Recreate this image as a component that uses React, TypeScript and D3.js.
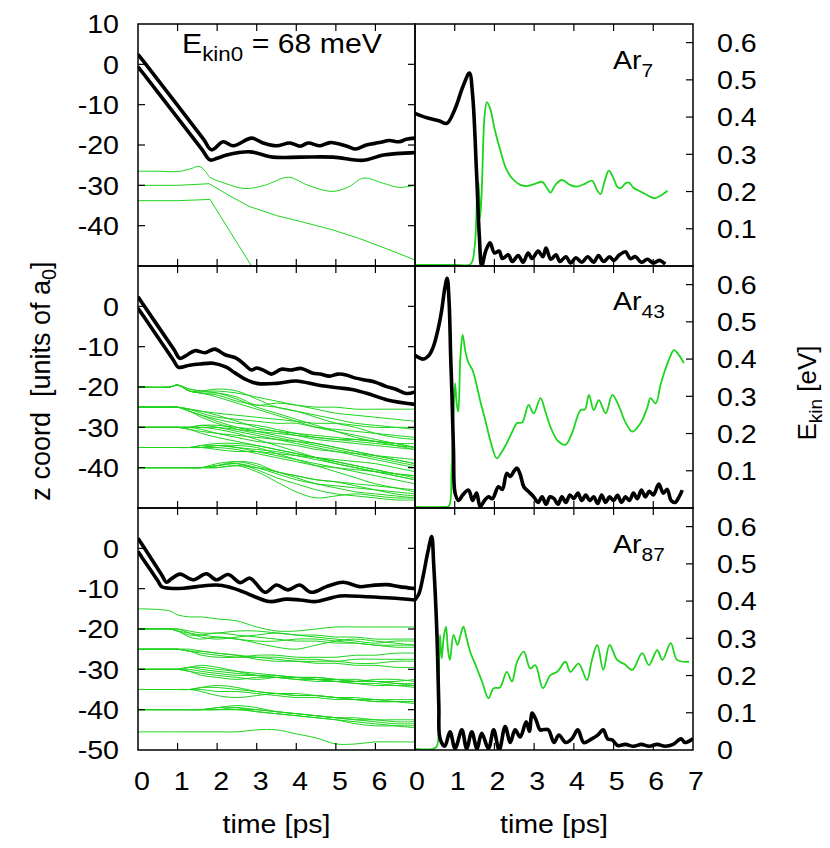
import React from 'react';
import * as d3 from 'd3';

type P = [number, number];

// ---------- shared time grid for the cluster-atom (green) trajectories ----------
const TIME_GRID = [0, 0.8, 1.0, 1.3, 1.6, 2.0, 2.5, 3.0, 3.5, 4.0, 4.5, 5.0, 5.5, 6.0, 6.5, 7.0];

// ---------- Ar7 (top row) ----------
const ar7ProjA: P[] = [[0,2.5],[0.2,0.0],[1.65,-18.5],[1.86,-21.2],[2.15,-19.2],[2.41,-20.2],[2.87,-18.3],[3.16,-19.5],[3.5,-20.2],[3.84,-19.5],[4.1,-20.3],[4.3,-19.5],[4.6,-20.2],[4.86,-19.4],[5.28,-20.3],[5.5,-21],[5.77,-20],[6.1,-19.4],[6.35,-18.9],[6.6,-19.2],[6.78,-18.6],[7,-18.3]];
const ar7ProjB: P[] = [[0,-0.6],[0.2,-3.1],[1.6,-20.9],[1.82,-23.7],[2.0,-23.3],[2.24,-22.5],[2.83,-21.7],[3.4,-23],[4.1,-23],[4.93,-23],[5.69,-23.8],[6.2,-22.5],[7,-21.9]];
const ar7Atom1: P[] = [[0,-26.5],[0.5,-26.5],[1.0,-26.6],[1.3,-26],[1.55,-25.3],[1.7,-26.5],[1.82,-28],[2.2,-29.5],[2.7,-30.8],[3.2,-30],[3.8,-28],[4.3,-30],[4.9,-31.5],[5.3,-30.5],[5.7,-28.2],[6.2,-29.5],[6.6,-30.5],[7,-30]];
const ar7Atom2: P[] = [[0,-30],[1,-30],[1.8,-29.6],[2.3,-32.5],[2.8,-35.2],[3.5,-37.5],[4.2,-39.2],[4.9,-41],[5.6,-43.2],[6.3,-45.8],[7,-48.5]];
const ar7Atom3: P[] = [[0,-33.8],[1,-33.8],[1.82,-33.5],[2.9,-50.5]];
const ar7EkinProj: P[] = [[0,0.41],[0.3,0.398],[0.6,0.39],[0.8,0.383],[1.0,0.42],[1.2,0.48],[1.37,0.518],[1.45,0.46],[1.55,0.25],[1.62,0.08],[1.68,0.0],[1.78,0.04],[1.89,0.062],[2.0,0.035],[2.12,0.04],[2.2,0.02],[2.35,0.03],[2.45,0.012],[2.6,0.028],[2.72,0.01],[2.85,0.035],[2.95,0.02],[3.1,0.04],[3.22,0.025],[3.3,0.048],[3.42,0.018],[3.55,0.03],[3.65,0.012],[3.8,0.025],[3.92,0.008],[4.05,0.022],[4.2,0.01],[4.35,0.025],[4.5,0.01],[4.62,0.028],[4.75,0.012],[4.9,0.025],[5.0,0.015],[5.15,0.03],[5.3,0.038],[5.42,0.02],[5.55,0.025],[5.7,0.01],[5.85,0.018],[6.0,0.008],[6.15,0.015],[6.3,0.005]];
const ar7EkinClus: P[] = [[0,0.003],[1.0,0.003],[1.4,0.005],[1.5,0.05],[1.57,0.2],[1.6,0.226],[1.64,0.13],[1.68,0.2],[1.75,0.4],[1.81,0.44],[1.9,0.42],[2.0,0.37],[2.15,0.31],[2.3,0.26],[2.45,0.235],[2.65,0.218],[2.85,0.215],[3.05,0.222],[3.2,0.226],[3.35,0.205],[3.41,0.197],[3.55,0.22],[3.7,0.231],[3.9,0.218],[4.08,0.213],[4.3,0.222],[4.46,0.229],[4.58,0.205],[4.67,0.193],[4.78,0.23],[4.88,0.256],[4.98,0.24],[5.1,0.212],[5.18,0.209],[5.3,0.222],[5.39,0.224],[5.5,0.21],[5.68,0.2],[5.85,0.19],[6.02,0.182],[6.2,0.19],[6.36,0.202]];

// ---------- Ar43 (middle row) ----------
const ar43ProjA: P[] = [[0,2.4],[0.15,0.2],[0.9,-10.6],[1.06,-12.9],[1.25,-12],[1.44,-11],[1.69,-11.5],[1.94,-10.6],[2.2,-12],[2.49,-12.9],[2.7,-14.5],[2.87,-15.8],[3.0,-15.3],[3.2,-16],[3.37,-16.8],[3.62,-15.6],[3.85,-15.8],[4.13,-15.4],[4.42,-16.6],[4.6,-16.8],[4.84,-17.3],[5.05,-16.8],[5.26,-17],[5.5,-17.8],[5.77,-18.3],[6.0,-18.8],[6.28,-19.9],[6.5,-20.5],[6.78,-21.6],[7,-21.2]];
const ar43ProjB: P[] = [[0,-0.5],[0.15,-2.6],[0.88,-13.1],[1.02,-15.1],[1.3,-14.6],[1.57,-14.3],[1.9,-14.1],[2.23,-15.1],[2.45,-16.5],[2.66,-17.8],[3.0,-19.1],[3.5,-19.1],[4.0,-18.5],[4.54,-19.5],[5.04,-20.2],[5.4,-20.6],[5.8,-21.6],[6.3,-23.2],[7,-24.3]];
const ar43Atoms: number[][] = [
  [-20,-20,-19.5,-21,-21.5,-21.5,-22.5,-24.5,-24,-24.5,-25,-25,-25.5,-25.5,-25.5,-25.5],
  [-20,-20,-19.5,-21,-21,-20.5,-21,-23,-25,-26,-27,-28,-29,-29.5,-30,-30.5],
  [-20,-20,-19.5,-21,-21.5,-22,-23.5,-24.5,-25,-26,-27.5,-29,-30,-31.5,-32.5,-33],
  [-20,-20,-19.6,-20.5,-21,-21.5,-23,-25,-26.5,-28,-29.5,-31,-32.5,-33.5,-34.5,-35.5],
  [-20,-20,-19.5,-20.5,-21,-21,-21.5,-22.5,-23.5,-24.5,-25.5,-26.5,-27,-27.5,-28,-28.5],
  [-20,-20,-19.5,-21,-21.5,-22.5,-24,-25.5,-27,-28.5,-30,-31,-32,-33,-34,-35],
  [-25,-25,-25,-25.5,-26.5,-27.5,-28,-28.5,-29,-29,-30,-30.5,-31,-31.5,-32,-32.5],
  [-25,-25,-25,-26,-27,-28.5,-30,-31,-32,-33,-34,-35,-36,-37,-38,-39],
  [-25,-25,-25,-25.5,-26,-26.5,-27,-27.5,-28,-28.5,-29,-29,-29.5,-30,-30,-30],
  [-25,-25,-25,-26,-27.5,-29,-30.5,-31.5,-32.5,-33.5,-34.5,-35.5,-36.5,-37.5,-38.5,-39.5],
  [-25,-25,-25,-25.5,-26,-27,-28.5,-30,-31,-32,-33,-33.5,-34,-34.5,-35,-35.5],
  [-25,-25,-25,-26,-27,-28,-29,-29.5,-30.5,-31.5,-32.5,-33,-33.5,-34,-34.5,-35],
  [-30,-30,-30,-30,-29.5,-30,-31,-32,-33,-34,-35,-36,-36.5,-37,-37.5,-38],
  [-30,-30,-30,-30.5,-31,-31.5,-32,-32.5,-33,-33.5,-34,-35,-36,-37,-38,-39],
  [-30,-30,-30,-30,-29.5,-29.5,-30,-30.5,-31,-31.5,-32,-32.5,-33,-33.5,-34,-34],
  [-30,-30,-30,-30.5,-31.5,-32.5,-33.5,-34.5,-35.5,-36.5,-37.5,-38.5,-39.5,-40.5,-41.5,-42],
  [-30,-30,-30,-30,-30,-30,-30.5,-31,-31.5,-32,-32.5,-33,-33,-33.5,-34,-35],
  [-30,-30,-30,-30,-30.5,-31.5,-32.5,-33.5,-34,-34.5,-35.5,-36,-37,-38,-39,-40],
  [-30,-30,-30,-30,-30,-30.5,-31.5,-33,-34.5,-36,-37.5,-39,-40,-41,-42,-43],
  [-35,-35,-35,-35,-34.5,-34,-34,-34.5,-35.5,-36.5,-37.5,-38.5,-39.5,-40.5,-41.5,-42.5],
  [-35,-35,-35,-35,-35,-34.5,-35,-36,-37,-38,-39,-40,-41,-42,-43,-44],
  [-35,-35,-35,-35,-35,-35.5,-36,-36,-36.5,-37,-37.5,-38,-38.5,-39,-40,-41],
  [-35,-35,-35,-35,-35,-34.5,-34.5,-35,-36.5,-38,-39.5,-41,-42.5,-44,-45,-46],
  [-35,-35,-35,-35,-35,-35,-35.5,-36.5,-37.5,-38.5,-39.5,-40,-40.5,-41,-41.5,-42],
  [-35,-35,-35,-35,-34.5,-34.5,-35,-35.5,-36,-37,-38,-39,-40,-41,-42,-43],
  [-40,-40,-40,-40,-40,-39.5,-38.5,-39,-41,-42,-43,-43.5,-44,-44.5,-45,-45.5],
  [-40,-40,-40,-40,-40,-39.5,-39,-40.5,-42.5,-44,-45.5,-46.5,-47,-47.5,-48,-48],
  [-40,-40,-40,-40,-40,-40,-39.5,-41,-43.5,-46,-47.5,-47,-46.5,-47,-47.5,-47.5],
  [-40,-40,-40,-40,-40,-39,-38.5,-39.5,-41,-42,-43,-43.5,-44.5,-45.5,-46.5,-47],
  [-40,-40,-40,-40,-40,-39.5,-39,-40,-41.5,-43,-44,-44.5,-45,-45.5,-46,-46.5],
  [-40,-40,-40,-40,-40,-40,-39.5,-40,-41,-42.5,-44,-45,-46,-46.5,-47,-47.5],
];
const ar43EkinProj: P[] = [[0,0.41],[0.21,0.40],[0.35,0.41],[0.46,0.433],[0.58,0.48],[0.67,0.53],[0.75,0.59],[0.81,0.617],[0.86,0.55],[0.9,0.4],[0.93,0.308],[0.97,0.15],[1.01,0.04],[1.1,0.02],[1.2,0.035],[1.35,0.048],[1.45,0.02],[1.55,0.04],[1.64,0.004],[1.75,0.02],[1.85,0.03],[1.95,0.025],[2.1,0.057],[2.2,0.05],[2.31,0.093],[2.4,0.085],[2.5,0.1],[2.57,0.107],[2.65,0.09],[2.74,0.057],[2.85,0.045],[2.99,0.03],[3.1,0.015],[3.2,0.03],[3.3,0.01],[3.4,0.03],[3.5,0.025],[3.6,0.01],[3.7,0.03],[3.8,0.015],[3.9,0.035],[4.0,0.025],[4.1,0.04],[4.2,0.02],[4.3,0.035],[4.4,0.02],[4.5,0.03],[4.6,0.012],[4.7,0.035],[4.8,0.015],[4.9,0.03],[5.0,0.02],[5.1,0.034],[5.2,0.015],[5.3,0.03],[5.4,0.02],[5.5,0.04],[5.6,0.025],[5.7,0.048],[5.8,0.03],[5.9,0.045],[6.0,0.035],[6.14,0.064],[6.25,0.04],[6.35,0.05],[6.45,0.02],[6.55,0.015],[6.65,0.03],[6.73,0.048]];
const ar43EkinClus: P[] = [[0,0.003],[0.7,0.003],[0.85,0.005],[0.92,0.1],[0.97,0.25],[1.01,0.335],[1.05,0.28],[1.09,0.259],[1.14,0.4],[1.2,0.465],[1.27,0.42],[1.35,0.389],[1.45,0.37],[1.56,0.326],[1.66,0.28],[1.77,0.236],[1.9,0.18],[2.06,0.133],[2.18,0.15],[2.31,0.174],[2.45,0.205],[2.57,0.228],[2.7,0.23],[2.86,0.277],[2.99,0.254],[3.16,0.295],[3.28,0.26],[3.41,0.218],[3.6,0.18],[3.79,0.17],[3.95,0.2],[4.17,0.263],[4.28,0.265],[4.38,0.304],[4.5,0.263],[4.63,0.29],[4.8,0.254],[4.97,0.304],[5.14,0.272],[5.3,0.23],[5.47,0.205],[5.68,0.228],[5.85,0.27],[5.93,0.295],[6.06,0.281],[6.18,0.33],[6.27,0.362],[6.4,0.4],[6.52,0.424],[6.65,0.41],[6.77,0.389]];

// ---------- Ar87 (bottom row) ----------
const ar87ProjA: P[] = [[0,2.5],[0.1,1.0],[0.6,-6.6],[0.72,-8.4],[0.85,-7.5],[1.06,-6.4],[1.39,-7.8],[1.73,-6.3],[1.98,-7.8],[2.28,-6.5],[2.58,-8.5],[2.83,-7.4],[3.21,-10.9],[3.5,-9.1],[3.79,-10.3],[4.08,-9.1],[4.38,-10.9],[4.76,-9.5],[5.18,-8.4],[5.6,-9.5],[5.9,-9.2],[6.28,-9],[6.6,-9.5],[7,-10]];
const ar87ProjB: P[] = [[0,-0.8],[0.1,-2.25],[0.5,-8.05],[0.6,-9.5],[0.8,-9.9],[1.15,-9.9],[1.5,-9.5],[1.98,-9.1],[2.3,-9.6],[2.66,-10.8],[3.0,-12.2],[3.33,-13.2],[3.75,-12.6],[4.1,-12.8],[4.5,-13.2],[4.8,-12.5],[5.1,-11.8],[5.77,-12],[6.4,-12.3],[7,-12.8]];
const ar87Atoms: number[][] = [
  [-15,-15.5,-16.5,-17,-17,-17.5,-18,-19.5,-20.5,-20.5,-20,-19.5,-19.5,-19.5,-19.5,-19.5],
  [-20,-20,-20.5,-21.5,-21.5,-21,-21.5,-22,-22.5,-23,-23,-23.5,-23.5,-24,-24,-24],
  [-20,-20,-20,-20.5,-21,-21,-20.5,-20.5,-21,-21.5,-21.5,-22,-22,-22.5,-22.5,-22.5],
  [-20,-20,-20.5,-22,-22.5,-22,-22.5,-23.5,-24.5,-25,-24,-23,-22.5,-23,-23.5,-24],
  [-20,-20,-20,-21,-22,-22.5,-22,-21.5,-21,-21.5,-22,-22.5,-23,-23.5,-23,-23],
  [-20,-20,-20.5,-21,-21.5,-22,-22.5,-23,-23,-22.5,-22.5,-23,-23.5,-24,-24.5,-24.5],
  [-25,-25,-25,-25.5,-26,-26.5,-27,-27,-27,-27.5,-27.5,-28,-27.5,-27.5,-27.5,-27.5],
  [-25,-25,-25,-25,-25.5,-26,-26.5,-27.5,-28,-28,-28.5,-28.5,-29,-29,-29.5,-29.5],
  [-25,-25,-25,-25.5,-26.5,-27,-27,-26.5,-26.5,-27,-27,-27,-26.5,-26.5,-26,-26],
  [-25,-25,-25,-25.5,-25.5,-26,-26.5,-27,-27.5,-28,-28,-28,-28.5,-28.5,-28,-28],
  [-30,-30,-30,-29.5,-29.5,-30,-30.5,-31,-31.5,-32,-32,-32.5,-33,-33,-33.5,-33.5],
  [-30,-30,-30,-30.5,-31.5,-32,-32.5,-32,-32,-32.5,-32.5,-33,-33.5,-33.5,-34,-34],
  [-30,-30,-30,-29.5,-29,-29.5,-30.5,-31.5,-32,-32,-32.5,-32.5,-32.5,-33,-33,-32.5],
  [-30,-30,-30,-30.5,-31,-31.5,-32,-32.5,-32,-32,-32.5,-33,-33,-32.5,-32.5,-33],
  [-30,-30,-30,-29.5,-30,-30.5,-31,-31.5,-32,-32.5,-33,-33,-33.5,-34,-34,-34.5],
  [-30,-30,-30,-30,-30.5,-31,-31.5,-31.5,-31.5,-32,-32,-32.5,-33,-33,-33.5,-34],
  [-35,-35,-35,-35,-34.5,-34.5,-35,-35.5,-36,-36.5,-36.5,-37,-37,-37.5,-37.5,-37.5],
  [-35,-35,-35,-35,-35.5,-36.5,-37,-36.5,-36,-36.5,-36.5,-37,-37.5,-38,-38,-38],
  [-35,-35,-35,-35,-34.5,-34,-34.5,-35.5,-36,-36,-36.5,-37,-37.5,-37.5,-38,-38.5],
  [-35,-35,-35,-35,-35,-35.5,-35.5,-36,-36.5,-37,-37,-37.5,-37.5,-38,-38,-38],
  [-40,-40,-40,-40,-40,-40,-39.5,-40,-40.5,-41,-41.5,-42,-42,-42.5,-42.5,-42.5],
  [-40,-40,-40,-40,-40,-39.5,-39,-39.5,-40.5,-41,-41.5,-42,-42.5,-43,-43.5,-43.5],
  [-40,-40,-40,-40,-40,-40,-40,-40.5,-41,-41.5,-42,-42.5,-43,-43.5,-44,-44.5],
  [-40,-40,-40,-40,-40,-39.5,-39.5,-40.5,-41,-41.5,-42,-42.5,-43.5,-44,-44,-44],
  [-40,-40,-40,-40,-40,-40,-40,-40,-40.5,-41,-41.5,-42,-42.5,-42.5,-43,-43],
  [-45.5,-45.5,-45.5,-45.5,-45.5,-45.5,-45.5,-45,-45,-46,-47,-48.5,-48.5,-48,-48,-48],
];
const ar87EkinProj: P[] = [[0,0.403],[0.1,0.42],[0.21,0.47],[0.32,0.53],[0.42,0.573],[0.47,0.5],[0.55,0.318],[0.6,0.12],[0.63,0.031],[0.75,0.01],[0.88,0.049],[1.01,0.004],[1.18,0.054],[1.3,0.004],[1.43,0.049],[1.56,0.004],[1.68,0.045],[1.85,0.004],[1.98,0.054],[2.12,0.0],[2.27,0.063],[2.4,0.02],[2.52,0.054],[2.65,0.035],[2.8,0.076],[2.88,0.05],[2.95,0.099],[3.05,0.08],[3.15,0.054],[3.25,0.055],[3.36,0.054],[3.5,0.02],[3.62,0.04],[3.8,0.02],[3.95,0.03],[4.1,0.054],[4.25,0.02],[4.45,0.03],[4.6,0.04],[4.74,0.054],[4.85,0.03],[4.97,0.027],[5.1,0.012],[5.3,0.015],[5.5,0.01],[5.7,0.015],[5.9,0.01],[6.1,0.015],[6.3,0.01],[6.5,0.015],[6.7,0.03],[6.8,0.02],[7.0,0.03]];
const ar87EkinClus: P[] = [[0,0.003],[0.45,0.003],[0.55,0.01],[0.6,0.2],[0.63,0.309],[0.67,0.246],[0.72,0.3],[0.78,0.331],[0.83,0.27],[0.88,0.242],[0.97,0.309],[1.07,0.282],[1.15,0.31],[1.22,0.331],[1.3,0.3],[1.39,0.264],[1.56,0.219],[1.7,0.18],[1.85,0.139],[1.98,0.166],[2.14,0.168],[2.31,0.21],[2.44,0.184],[2.57,0.237],[2.74,0.264],[2.9,0.219],[3.03,0.228],[3.22,0.166],[3.41,0.201],[3.58,0.21],[3.79,0.237],[3.91,0.21],[4.12,0.232],[4.33,0.188],[4.45,0.24],[4.59,0.282],[4.74,0.215],[4.9,0.282],[5.09,0.242],[5.28,0.23],[5.47,0.215],[5.72,0.26],[5.89,0.228],[6.1,0.268],[6.23,0.242],[6.44,0.287],[6.6,0.242],[6.9,0.237]];

// ---------- tick labels ----------
const zTickLabelsByRow = [[10,0,-10,-20,-30,-40],[0,-10,-20,-30,-40],[0,-10,-20,-30,-40,-50]];
const zTickMarks = [0,-10,-20,-30,-40];
const eTickLabelsByRow = [[0.6,0.5,0.4,0.3,0.2,0.1],[0.6,0.5,0.4,0.3,0.2,0.1],[0.6,0.5,0.4,0.3,0.2,0.1,0]];
const eTickMarks = [0.1,0.2,0.3,0.4,0.5,0.6];
const tTickMarks = [1,2,3,4,5,6];
const tLabelsLeft = [0,1,2,3,4,5,6];
const tLabelsRight = [0,1,2,3,4,5,6,7];
const clusterNames = ['7','43','87'];

type Atom = { pts: P[]; straight: boolean };
const gridAtoms = (vals: number[][]): Atom[] => vals.map(v => ({ pts: v.map((z, i) => [TIME_GRID[i], z] as P), straight: false }));

const rows = [
  { projA: ar7ProjA, projB: ar7ProjB, atoms: [{ pts: ar7Atom1, straight: false }, { pts: ar7Atom2, straight: true }, { pts: ar7Atom3, straight: true }] as Atom[], ekP: ar7EkinProj, ekC: ar7EkinClus },
  { projA: ar43ProjA, projB: ar43ProjB, atoms: gridAtoms(ar43Atoms), ekP: ar43EkinProj, ekC: ar43EkinClus },
  { projA: ar87ProjA, projB: ar87ProjB, atoms: gridAtoms(ar87Atoms), ekP: ar87EkinProj, ekC: ar87EkinClus },
];

const LX0 = 138, MX = 415, RX1 = 693;
const ROW_EDGES = [[24, 266], [266, 508], [508, 750]];
const FONT = '"Liberation Sans", Arial, Helvetica, sans-serif';
const GREEN = '#1ed41e';
const FS = 26;
const SX = 1.1;

export default function App() {
  const xL = d3.scaleLinear().domain([0, 7]).range([LX0, MX]);
  const xR = d3.scaleLinear().domain([0, 7]).range([MX, RX1]);
  const TL = 7;

  return (
    <div style={{ position: 'absolute', left: 0, top: 0 }}>
      <svg width={830} height={848} style={{ display: 'block', background: '#fff' }} fontFamily={FONT}>
        <defs>
          {ROW_EDGES.map(([t, b], r) => (
            <React.Fragment key={r}>
              <clipPath id={`cl${r}`}><rect x={LX0} y={t} width={MX - LX0} height={b - t} /></clipPath>
              <clipPath id={`cr${r}`}><rect x={MX} y={t} width={RX1 - MX} height={b - t} /></clipPath>
            </React.Fragment>
          ))}
        </defs>
        {rows.map((row, r) => {
          const [top, bot] = ROW_EDGES[r];
          const yZ = d3.scaleLinear().domain([-50, 10]).range([bot, top]);
          const yE = d3.scaleLinear().domain([0, 0.65]).range([bot, top]);
          const lineZs = d3.line<P>().x(d => xL(d[0])).y(d => yZ(d[1])).curve(d3.curveCatmullRom.alpha(0.5));
          const lineZl = d3.line<P>().x(d => xL(d[0])).y(d => yZ(d[1]));
          const lineE = d3.line<P>().x(d => xR(d[0])).y(d => yE(d[1])).curve(d3.curveCatmullRom.alpha(0.5));
          return (
            <g key={r}>
              <g clipPath={`url(#cl${r})`}>
                {row.atoms.map((a, i) => (
                  <path key={i} d={(a.straight ? lineZl(a.pts) : lineZs(a.pts)) || ''} fill="none" stroke={GREEN} strokeWidth={1} />
                ))}
                <path d={lineZs(row.projA) || ''} fill="none" stroke="#000" strokeWidth={3.6} strokeLinejoin="round" />
                <path d={lineZs(row.projB) || ''} fill="none" stroke="#000" strokeWidth={3.6} strokeLinejoin="round" />
              </g>
              <g clipPath={`url(#cr${r})`}>
                <path d={lineE(row.ekC) || ''} fill="none" stroke={GREEN} strokeWidth={1.8} />
                <path d={lineE(row.ekP) || ''} fill="none" stroke="#000" strokeWidth={3.6} strokeLinejoin="round" />
              </g>
              <rect x={LX0} y={top} width={MX - LX0} height={bot - top} fill="none" stroke="#000" strokeWidth={1.5} />
              <rect x={MX} y={top} width={RX1 - MX} height={bot - top} fill="none" stroke="#000" strokeWidth={1.5} />
              {zTickMarks.map(v => (
                <g key={`zt${v}`} stroke="#000" strokeWidth={1.2}>
                  <line x1={LX0} x2={LX0 + TL} y1={yZ(v)} y2={yZ(v)} />
                  <line x1={MX - TL} x2={MX} y1={yZ(v)} y2={yZ(v)} />
                </g>
              ))}
              {eTickMarks.map(v => (
                <line key={`et${v}`} x1={RX1 - TL} x2={RX1} y1={yE(v)} y2={yE(v)} stroke="#000" strokeWidth={1.2} />
              ))}
              {tTickMarks.map(v => (
                <g key={`tt${v}`} stroke="#000" strokeWidth={1.2}>
                  <line x1={xL(v)} x2={xL(v)} y1={bot} y2={bot - TL} />
                  <line x1={xL(v)} x2={xL(v)} y1={top} y2={top + TL} />
                  <line x1={xR(v)} x2={xR(v)} y1={bot} y2={bot - TL} />
                  <line x1={xR(v)} x2={xR(v)} y1={top} y2={top + TL} />
                </g>
              ))}
              {zTickLabelsByRow[r].map(v => (
                <g key={`zl${v}`} transform={`translate(119,${yZ(v)}) scale(${SX},1)`}>
                  <text textAnchor="end" dy="0.36em" fontSize={FS}>{v}</text>
                </g>
              ))}
              {eTickLabelsByRow[r].map(v => (
                <g key={`el${v}`} transform={`translate(717,${yE(v)}) scale(${SX},1)`}>
                  <text textAnchor="start" dy="0.36em" fontSize={FS}>{v === 0 ? '0' : v.toFixed(1)}</text>
                </g>
              ))}
              <g transform={`translate(613,${[69, 310, 553][r]}) scale(${SX},1)`}>
                <text fontSize={FS}>
                  <tspan>Ar</tspan>
                  <tspan fontSize={19} dy={8}>{clusterNames[r]}</tspan>
                </text>
              </g>
            </g>
          );
        })}
        <g transform={`translate(182,53) scale(1.12,1)`}>
          <text fontSize={27}>
            <tspan>E</tspan>
            <tspan fontSize={20} dy={8}>kin0</tspan>
            <tspan dy={-8}> = 68 meV</tspan>
          </text>
        </g>
        {tLabelsLeft.map(v => (
          <g key={`bl${v}`} transform={`translate(${xL(v) + 4},790) scale(${SX},1)`}>
            <text textAnchor="middle" fontSize={FS}>{v}</text>
          </g>
        ))}
        {tLabelsRight.map(v => (
          <g key={`br${v}`} transform={`translate(${xR(v) + (v === 0 ? 2 : 3)},790) scale(${SX},1)`}>
            <text textAnchor="middle" fontSize={FS}>{v}</text>
          </g>
        ))}
        <g transform={`translate(${(LX0 + MX) / 2},833) scale(${SX},1)`}>
          <text textAnchor="middle" fontSize={FS}>time [ps]</text>
        </g>
        <g transform={`translate(${(MX + RX1) / 2},833) scale(${SX},1)`}>
          <text textAnchor="middle" fontSize={FS}>time [ps]</text>
        </g>
        <text transform="translate(50,381) rotate(-90)" textAnchor="middle" fontSize={27}>
          <tspan>{'z coord\u00a0\u00a0[units of a'}</tspan>
          <tspan fontSize={20} dy={6}>0</tspan>
          <tspan dy={-6}>]</tspan>
        </text>
        <text transform="translate(816,393) rotate(-90)" textAnchor="middle" fontSize={FS}>
          <tspan>E</tspan>
          <tspan fontSize={19} dy={6}>kin</tspan>
          <tspan dy={-6}> [eV]</tspan>
        </text>
      </svg>
    </div>
  );
}
